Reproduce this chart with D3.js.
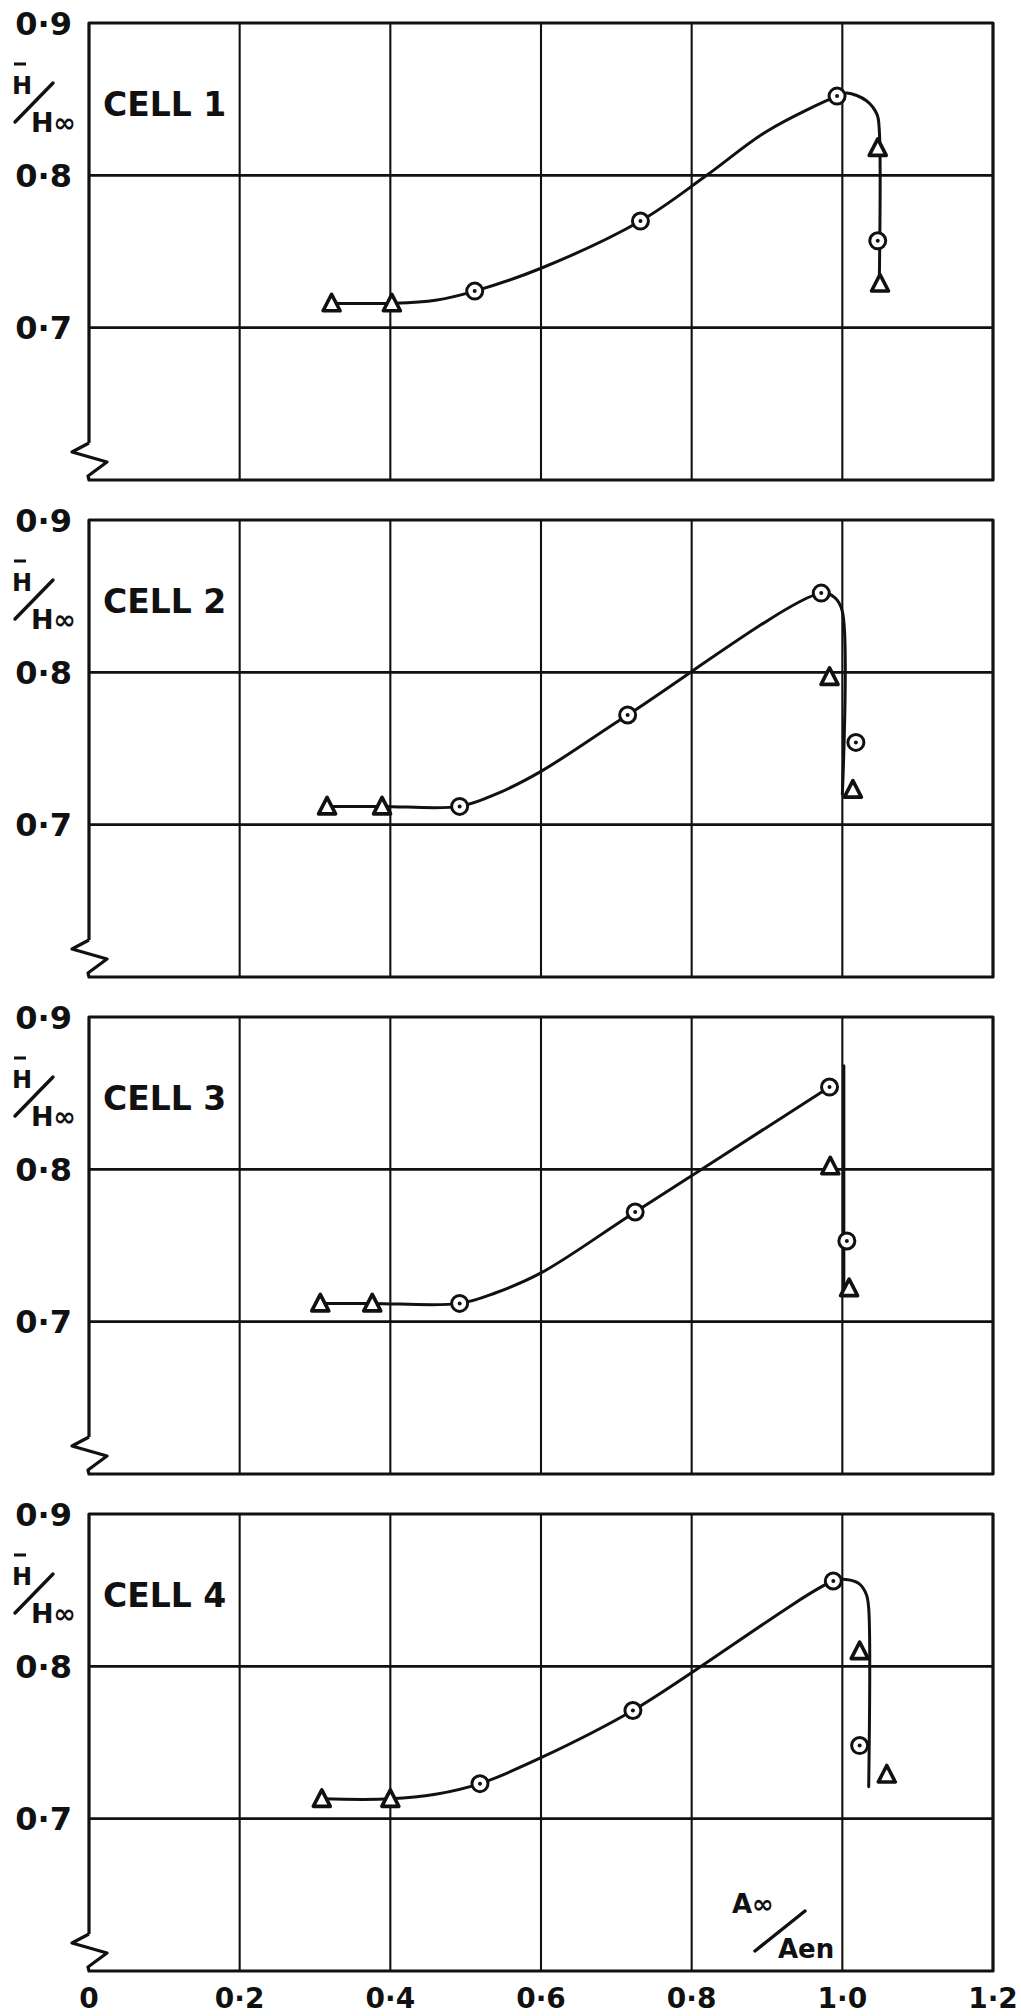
<!DOCTYPE html>
<html>
<head>
<meta charset="utf-8">
<script src="https://cdn.jsdelivr.net/npm/d3@7/dist/d3.min.js"></script>
<style>
body { margin: 0; background: #fff; }
svg { display: block; }
text { font-family: "DejaVu Sans", sans-serif; font-weight: bold; fill: #111; }
</style>
</head>
<body>
<script>
// values: x = A∞/Aen, y = H̄/H∞
var xTicks = [0, 0.2, 0.4, 0.6, 0.8, 1.0, 1.2];
var xTickLabels = ["0", "0·2", "0·4", "0·6", "0·8", "1·0", "1·2"];
var yTicks = [0.7, 0.8, 0.9];
var yTickLabels = ["0·7", "0·8", "0·9"];
var cellNames = ["CELL 1", "CELL 2", "CELL 3", "CELL 4"];

var cell1Circles   = [[0.512, 0.724], [0.732, 0.770], [0.993, 0.852], [1.047, 0.757]];
var cell1Triangles = [[0.322, 0.716], [0.402, 0.716], [1.047, 0.818], [1.050, 0.729]];
var cell1Curve = [[0.322, 0.716], [0.402, 0.716], [0.46, 0.718], [0.512, 0.724], [0.60, 0.739],
                  [0.732, 0.770], [0.82, 0.800], [0.90, 0.829], [0.993, 0.852], [1.006, 0.854],
                  [1.032, 0.849], [1.046, 0.840], [1.049, 0.830], [1.049, 0.728]];

var cell2Circles   = [[0.492, 0.712], [0.715, 0.772], [0.972, 0.852], [1.018, 0.754]];
var cell2Triangles = [[0.316, 0.712], [0.389, 0.712], [0.983, 0.797], [1.014, 0.723]];
var cell2Curve = [[0.316, 0.712], [0.389, 0.712], [0.492, 0.712], [0.54, 0.720], [0.60, 0.735],
                  [0.715, 0.772], [0.972, 0.852], [0.990, 0.849], [1.0, 0.840], [1.0, 0.720]];

var cell3Circles   = [[0.492, 0.712], [0.725, 0.772], [0.983, 0.854], [1.006, 0.753]];
var cell3Triangles = [[0.307, 0.712], [0.376, 0.712], [0.984, 0.802], [1.009, 0.722]];
var cell3Curve = [[0.307, 0.712], [0.376, 0.712], [0.492, 0.712], [0.54, 0.719], [0.60, 0.732],
                  [0.725, 0.772], [0.983, 0.854]];
var cell3Drop  = [[1.002, 0.868], [1.002, 0.719]];

var cell4Circles   = [[0.519, 0.723], [0.722, 0.771], [0.988, 0.856], [1.023, 0.748]];
var cell4Triangles = [[0.309, 0.713], [0.400, 0.713], [1.023, 0.810], [1.059, 0.729]];
var cell4Curve = [[0.309, 0.713], [0.400, 0.713], [0.46, 0.716], [0.519, 0.723], [0.60, 0.740],
                  [0.722, 0.771], [0.988, 0.856], [1.005, 0.857], [1.023, 0.854], [1.032, 0.847],
                  [1.035, 0.838], [1.035, 0.721]];

var cells = [
  { name: cellNames[0], circles: cell1Circles, triangles: cell1Triangles, curves: [cell1Curve] },
  { name: cellNames[1], circles: cell2Circles, triangles: cell2Triangles, curves: [cell2Curve] },
  { name: cellNames[2], circles: cell3Circles, triangles: cell3Triangles, curves: [cell3Curve, cell3Drop] },
  { name: cellNames[3], circles: cell4Circles, triangles: cell4Triangles, curves: [cell4Curve] }
];

var width = 1021, height = 2016;
var left = 89, right = 993;
var panelTop = 23, panelStep = 497, panelH = 457;

var svg = d3.select("body").append("svg")
    .attr("width", width)
    .attr("height", height);

var x = d3.scaleLinear().domain([0, 1.2]).range([left, right]);

var ink = "#111";

cells.forEach(function(cell, i) {
  var top = panelTop + i * panelStep;
  var bottom = top + panelH;
  var y = d3.scaleLinear().domain([0.6, 0.9]).range([bottom, top]);
  var g = svg.append("g").attr("class", "cell");

  // vertical grid
  g.selectAll(".vgrid")
    .data(xTicks.slice(1, -1))
    .enter().append("line")
      .attr("x1", function(d) { return x(d); })
      .attr("x2", function(d) { return x(d); })
      .attr("y1", top).attr("y2", bottom)
      .attr("stroke", ink).attr("stroke-width", 2.1);

  // horizontal grid
  g.selectAll(".hgrid")
    .data([0.7, 0.8])
    .enter().append("line")
      .attr("x1", left).attr("x2", right)
      .attr("y1", function(d) { return y(d); })
      .attr("y2", function(d) { return y(d); })
      .attr("stroke", ink).attr("stroke-width", 2.6);

  // frame, with the broken-axis zigzag at the bottom left
  var x0 = x(0);
  var frame = d3.path();
  frame.moveTo(x0, bottom - 37);
  frame.lineTo(x0, top);
  frame.lineTo(right, top);
  frame.lineTo(right, bottom);
  frame.lineTo(x0, bottom);
  frame.lineTo(x0 - 1, bottom - 4);
  frame.lineTo(x0 + 18, bottom - 18);
  frame.lineTo(x0 - 17, bottom - 28);
  frame.lineTo(x0, bottom - 37);
  g.append("path")
    .attr("d", frame.toString())
    .attr("fill", "none")
    .attr("stroke", ink)
    .attr("stroke-width", 3.2)
    .attr("stroke-linejoin", "round");

  // y tick labels
  g.selectAll(".ytick")
    .data(yTicks)
    .enter().append("text")
      .attr("x", x0 - 17)
      .attr("y", function(d) { return y(d); })
      .attr("dy", "0.36em")
      .attr("text-anchor", "end")
      .attr("font-size", 32)
      .text(function(d, k) { return yTickLabels[k]; });

  // y axis title  H̄ / H∞
  g.append("text")
    .attr("x", 12).attr("y", top + 71)
    .attr("font-size", 24)
    .text("H");
  g.append("line")
    .attr("x1", 14).attr("x2", 26)
    .attr("y1", top + 41).attr("y2", top + 41)
    .attr("stroke", ink).attr("stroke-width", 3);
  g.append("line")
    .attr("x1", 15).attr("y1", top + 99)
    .attr("x2", 53).attr("y2", top + 60)
    .attr("stroke", ink).attr("stroke-width", 3.4)
    .attr("stroke-linecap", "round");
  g.append("text")
    .attr("x", 31).attr("y", top + 109)
    .attr("font-size", 27)
    .text("H∞");

  // cell label
  g.append("text")
    .attr("x", 103).attr("y", top + 93)
    .attr("font-size", 33)
    .text(cell.name);

  // fitted curves
  var line = d3.line()
    .x(function(d) { return x(d[0]); })
    .y(function(d) { return y(d[1]); })
    .curve(d3.curveCatmullRom.alpha(0.5));

  g.selectAll(".curve")
    .data(cell.curves)
    .enter().append("path")
      .attr("d", line)
      .attr("fill", "none")
      .attr("stroke", ink)
      .attr("stroke-width", 3)
      .attr("stroke-linecap", "round");

  // triangles
  g.selectAll(".tri")
    .data(cell.triangles)
    .enter().append("path")
      .attr("transform", function(d) { return "translate(" + x(d[0]) + "," + y(d[1]) + ")"; })
      .attr("d", "M0,-9L8.5,7.5L-8.5,7.5Z")
      .attr("fill", "#fff")
      .attr("stroke", ink)
      .attr("stroke-width", 3.6)
      .attr("stroke-linejoin", "round");

  // circles with centre dot
  var c = g.selectAll(".circ")
    .data(cell.circles)
    .enter().append("g")
      .attr("transform", function(d) { return "translate(" + x(d[0]) + "," + y(d[1]) + ")"; });
  c.append("circle")
    .attr("r", 8)
    .attr("fill", "#fff")
    .attr("stroke", ink)
    .attr("stroke-width", 3);
  c.append("circle")
    .attr("r", 2)
    .attr("fill", ink);

  // x axis title in the last panel
  if (i === cells.length - 1) {
    g.append("text")
      .attr("x", 732).attr("y", bottom - 58)
      .attr("font-size", 26)
      .text("A∞");
    g.append("line")
      .attr("x1", 755).attr("y1", bottom - 20)
      .attr("x2", 805).attr("y2", bottom - 60)
      .attr("stroke", ink).attr("stroke-width", 3.4)
      .attr("stroke-linecap", "round");
    g.append("text")
      .attr("x", 778).attr("y", bottom - 13)
      .attr("font-size", 26)
      .text("Aen");

    g.selectAll(".xtick")
      .data(xTicks)
      .enter().append("text")
        .attr("x", function(d) { return x(d); })
        .attr("y", bottom + 37)
        .attr("text-anchor", "middle")
        .attr("font-size", 28)
        .text(function(d, k) { return xTickLabels[k]; });
  }
});
</script>
</body>
</html>
